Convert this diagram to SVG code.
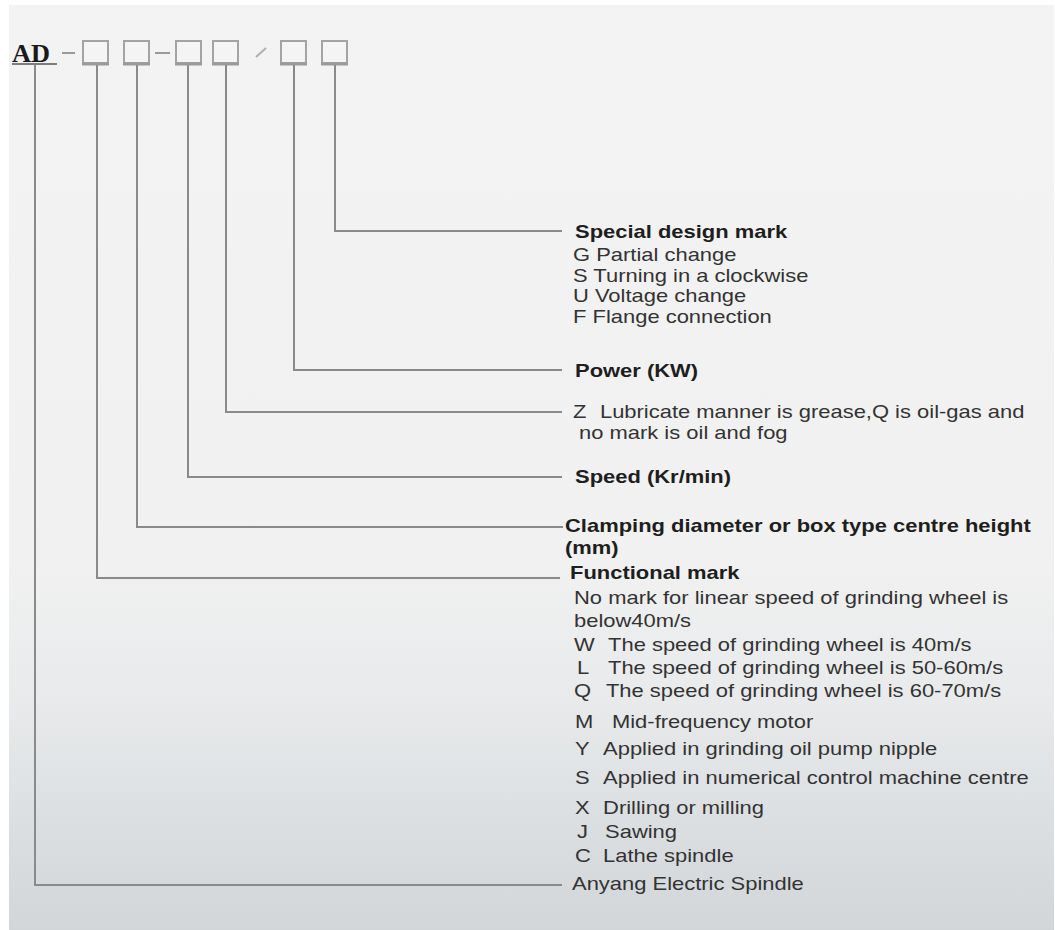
<svg xmlns="http://www.w3.org/2000/svg" width="1055" height="930" viewBox="0 0 1055 930">
<defs>
<linearGradient id="bg" x1="0" y1="0" x2="0" y2="1">
<stop offset="0" stop-color="#f3f3f3"/>
<stop offset="0.6" stop-color="#f1f1f1"/>
<stop offset="0.75" stop-color="#e8eaeb"/>
<stop offset="0.88" stop-color="#dcdfe2"/>
<stop offset="1" stop-color="#d2d6d9"/>
</linearGradient>
<style>
.h{font-family:"Liberation Sans",Arial,sans-serif;font-weight:bold;font-size:18px;fill:#1e1e1e}
.r{font-family:"Liberation Sans",Arial,sans-serif;font-size:18px;fill:#333}
.c{fill:none;stroke:#8a8a8a;stroke-width:2}
.box{fill:#f4f4f4;stroke:#a3a3a3;stroke-width:2}
.boxb{stroke:#9a9a9a;stroke-width:3}
.ad{font-family:"Liberation Serif","Times New Roman",serif;font-weight:bold;font-size:26px;fill:#1a1a1a}
</style>
</defs>
<rect width="1055" height="930" fill="#ffffff"/>
<rect x="9" y="5" width="1045" height="925" fill="url(#bg)"/>

<g id="code">
<text class="ad" x="12" y="62" textLength="38" lengthAdjust="spacingAndGlyphs">AD</text>
<line x1="12" y1="64" x2="57" y2="64" stroke="#555" stroke-width="1.5"/>
<line x1="62" y1="53" x2="75" y2="53" stroke="#9a9a9a" stroke-width="2"/>
<line x1="155" y1="53" x2="170" y2="53" stroke="#9a9a9a" stroke-width="2"/>
<line x1="256" y1="57" x2="266" y2="48" stroke="#b0b0b0" stroke-width="2"/>
<g id="box1"><rect class="box" x="83" y="41" width="25" height="22"/><line class="boxb" x1="82" y1="64" x2="109" y2="64"/></g>
<g id="box2"><rect class="box" x="124" y="41" width="25" height="22"/><line class="boxb" x1="123" y1="64" x2="150" y2="64"/></g>
<g id="box3"><rect class="box" x="176" y="41" width="25" height="22"/><line class="boxb" x1="175" y1="64" x2="202" y2="64"/></g>
<g id="box4"><rect class="box" x="213" y="41" width="25" height="22"/><line class="boxb" x1="212" y1="64" x2="239" y2="64"/></g>
<g id="box5"><rect class="box" x="281" y="41" width="25" height="22"/><line class="boxb" x1="280" y1="64" x2="307" y2="64"/></g>
<g id="box6"><rect class="box" x="322" y="41" width="25" height="22"/><line class="boxb" x1="321" y1="64" x2="348" y2="64"/></g>
</g>

<g id="connectors">
<polyline class="c" points="335,65 335,231 562,231"/>
<polyline class="c" points="294,65 294,370 562,370"/>
<polyline class="c" points="226,65 226,412 562,412"/>
<polyline class="c" points="188,65 188,477 562,477"/>
<polyline class="c" points="137,65 137,527 563,527"/>
<polyline class="c" points="97,65 97,578 560,578"/>
<polyline class="c" points="35,65 35,885 562,885"/>
</g>

<g id="special">
<text class="h" transform="translate(575,238) scale(1.22 1)">Special design mark</text>
<text class="r" transform="translate(573,261) scale(1.22 1)">G Partial change</text>
<text class="r" transform="translate(573,281.5) scale(1.22 1)">S Turning in a clockwise</text>
<text class="r" transform="translate(573,302) scale(1.22 1)">U Voltage change</text>
<text class="r" transform="translate(573,322.5) scale(1.22 1)">F Flange connection</text>
</g>

<g id="power">
<text class="h" transform="translate(575,377) scale(1.22 1)">Power (KW)</text>
</g>

<g id="lubricate">
<text class="r" transform="translate(573,418) scale(1.22 1)">Z<tspan x="22.1">Lubricate manner is grease,Q is oil-gas and</tspan></text>
<text class="r" transform="translate(579,438.5) scale(1.22 1)">no mark is oil and fog</text>
</g>

<g id="speed">
<text class="h" transform="translate(575,483) scale(1.22 1)">Speed (Kr/min)</text>
</g>

<g id="clamping">
<text class="h" transform="translate(565,532) scale(1.22 1)">Clamping diameter or box type centre height</text>
<text class="h" transform="translate(565,554) scale(1.22 1)">(mm)</text>
</g>

<g id="functional">
<text class="h" transform="translate(570,579) scale(1.22 1)">Functional mark</text>
<text class="r" transform="translate(574,604) scale(1.22 1)">No mark for linear speed of grinding wheel is</text>
<text class="r" transform="translate(574,627) scale(1.22 1)">below40m/s</text>
<text class="r" transform="translate(574,651) scale(1.22 1)">W<tspan x="27.9">The speed of grinding wheel is 40m/s</tspan></text>
<text class="r" transform="translate(577,674) scale(1.22 1)">L<tspan x="25.4">The speed of grinding wheel is 50-60m/s</tspan></text>
<text class="r" transform="translate(574,697) scale(1.22 1)">Q<tspan x="26.2">The speed of grinding wheel is 60-70m/s</tspan></text>
<text class="r" transform="translate(575,728) scale(1.22 1)">M<tspan x="30.3">Mid-frequency motor</tspan></text>
<text class="r" transform="translate(575,755) scale(1.22 1)">Y<tspan x="23">Applied in grinding oil pump nipple</tspan></text>
<text class="r" transform="translate(575,784) scale(1.22 1)">S<tspan x="23">Applied in numerical control machine centre</tspan></text>
<text class="r" transform="translate(575,814) scale(1.22 1)">X<tspan x="23">Drilling or milling</tspan></text>
<text class="r" transform="translate(577,838) scale(1.22 1)">J<tspan x="23">Sawing</tspan></text>
<text class="r" transform="translate(575,862) scale(1.22 1)">C<tspan x="23">Lathe spindle</tspan></text>
</g>

<g id="anyang">
<text class="r" transform="translate(572,890) scale(1.22 1)">Anyang Electric Spindle</text>
</g>
</svg>
